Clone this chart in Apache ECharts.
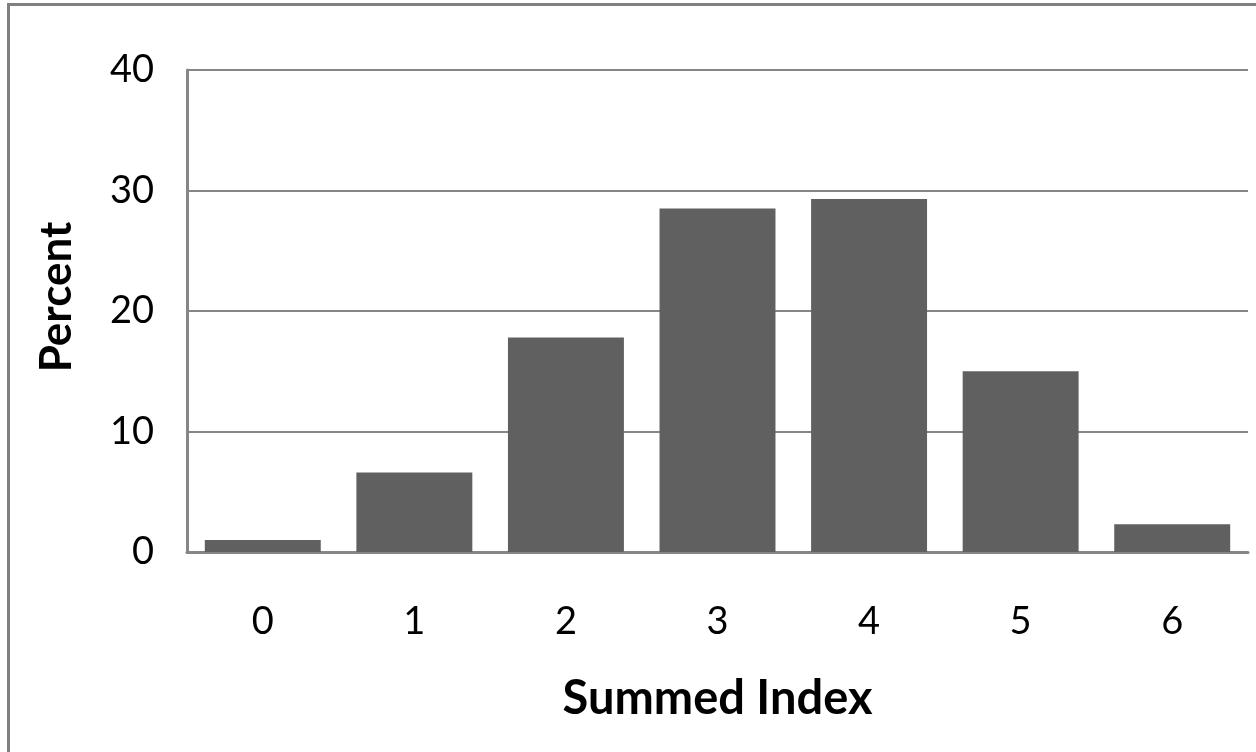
<!DOCTYPE html>
<html>
<head>
<meta charset="utf-8">
<script src="https://cdn.jsdelivr.net/npm/echarts@6/dist/echarts.min.js"></script>
<style>
  html, body { margin: 0; padding: 0; background: #fff; }
  #chart { width: 1256px; height: 752px; }
</style>
</head>
<body>
<div id="chart"></div>
<script>
// Distribution of the summed index
const categories = ['0', '1', '2', '3', '4', '5', '6'];
const percentValues = [1.0, 6.6, 17.8, 28.5, 29.3, 15.0, 2.3];
const yTicks = [0, 10, 20, 30, 40];
const yAxisTitle = 'Percent';
const xAxisTitle = 'Summed Index';

const FONT = 'Lato';
const GRID_GRAY = '#868686';

const chart = echarts.init(document.getElementById('chart'), null, { renderer: 'canvas' });

chart.setOption({
  animation: false,
  backgroundColor: '#ffffff',
  graphic: [
    {
      // outer frame around the whole chart
      type: 'rect',
      shape: { x: 8.5, y: 4.5, width: 1400, height: 900 },
      style: { fill: 'none', stroke: '#808080', lineWidth: 3 },
      silent: true
    },
    {
      // vertical axis title
      type: 'text',
      x: 57,
      y: 297,
      rotation: Math.PI / 2,
      style: {
        text: yAxisTitle,
        fontFamily: FONT,
        fontWeight: 'bold',
        fontSize: 44,
        fill: '#000',
        align: 'center',
        verticalAlign: 'middle'
      },
      silent: true
    }
  ],
  grid: { left: 187, right: 8, top: 70, bottom: 200, containLabel: false },
  xAxis: {
    type: 'category',
    data: categories,
    name: xAxisTitle,
    nameLocation: 'middle',
    nameGap: 123,
    nameTextStyle: { fontFamily: FONT, fontWeight: 'bold', fontSize: 47, color: '#000' },
    axisLine: { show: true, lineStyle: { color: GRID_GRAY, width: 3 } },
    axisTick: { show: false },
    axisLabel: { fontFamily: FONT, fontSize: 38, color: '#000', margin: 51 }
  },
  yAxis: {
    type: 'value',
    min: yTicks[0],
    max: yTicks[yTicks.length - 1],
    interval: yTicks[1] - yTicks[0],
    axisLine: { show: true, lineStyle: { color: GRID_GRAY, width: 3 } },
    axisTick: { show: false },
    axisLabel: { fontFamily: FONT, fontSize: 38, color: '#000', margin: 33 },
    splitLine: { show: true, lineStyle: { color: GRID_GRAY, width: 2 } }
  },
  series: [{
    type: 'bar',
    data: percentValues,
    barCategoryGap: '23.5%',
    itemStyle: { color: '#606060' }
  }]
});
</script>
</body>
</html>
